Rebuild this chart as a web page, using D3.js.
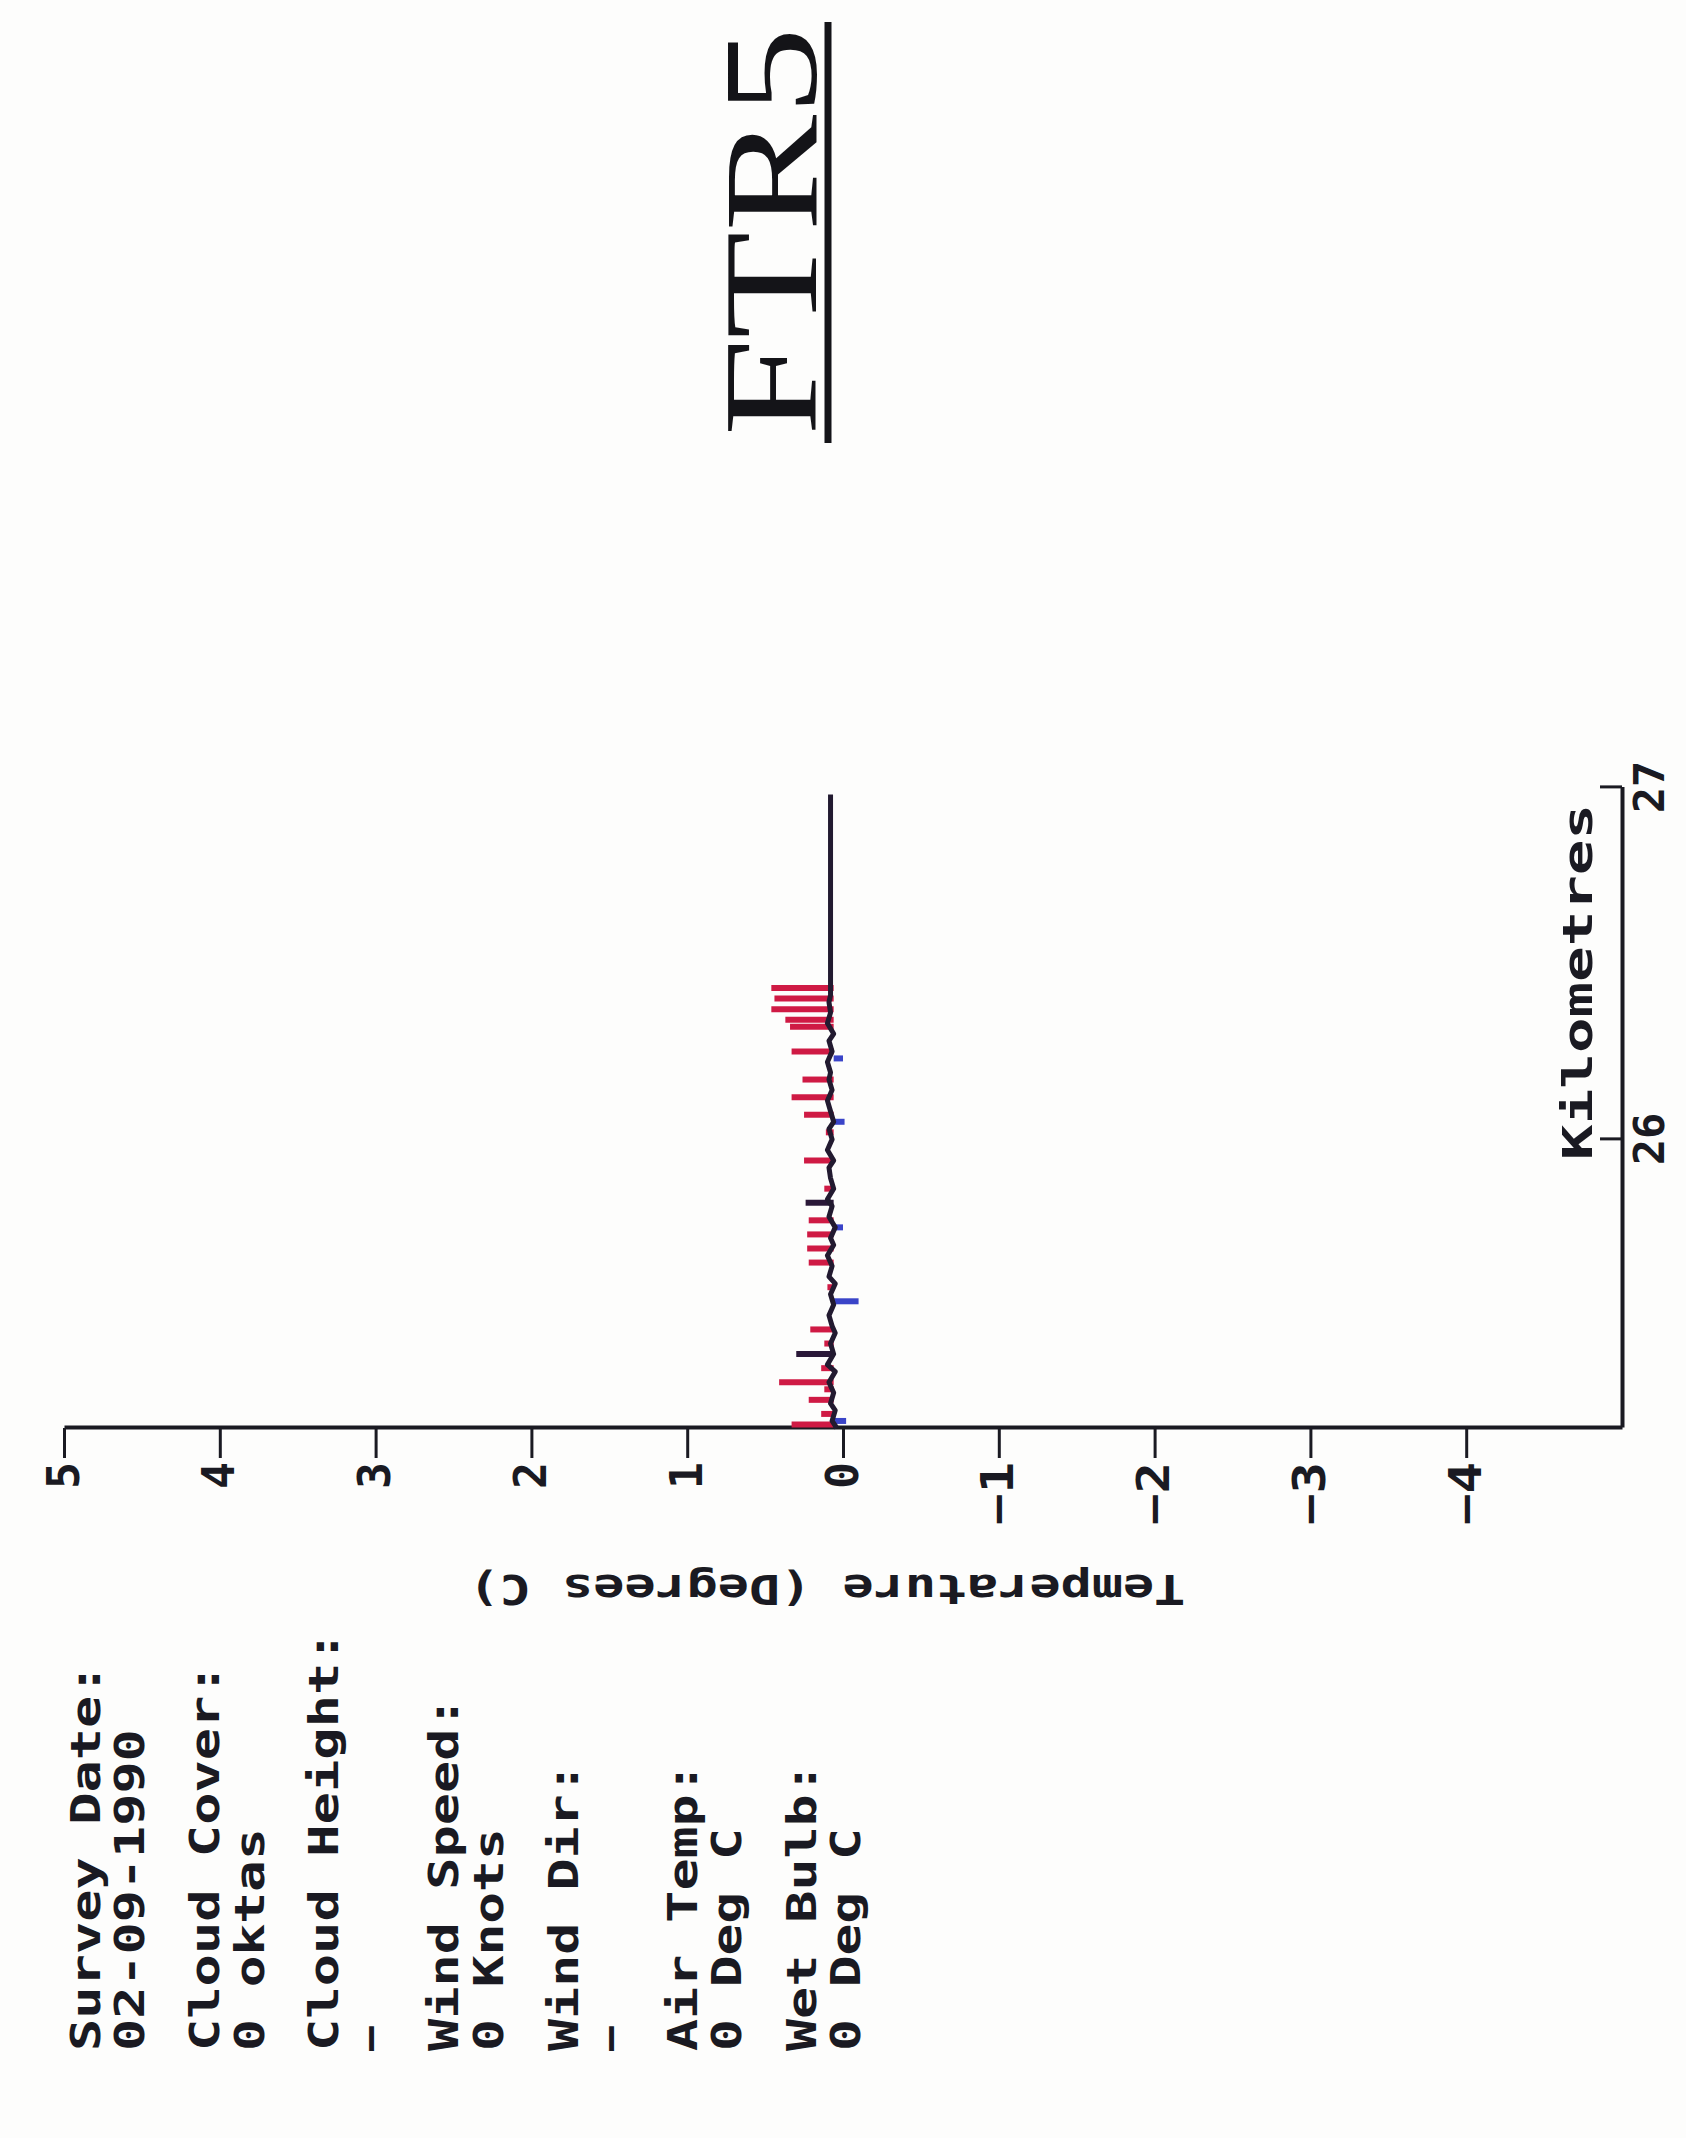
<!DOCTYPE html>
<html>
<head>
<meta charset="utf-8">
<script src="https://cdn.jsdelivr.net/npm/d3@7"></script>
<style>
  html, body { margin: 0; padding: 0; background: #fdfdfc; }
  svg { display: block; }
</style>
</head>
<body>
<script>
const W = 1686, H = 2138;

// Axis ranges and ticks
const kmDomain = [25.18, 27];
const tempDomain = [5, -5];
const tempTicks = [5, 4, 3, 2, 1, 0, -1, -2, -3, -4];
const kmTicks = [26, 27];

// Main (black) temperature trace along the run
const traceKm = [25.18, 25.20, 25.23, 25.25, 25.28, 25.31, 25.34, 25.36, 25.39, 25.42,
                 25.45, 25.47, 25.50, 25.53, 25.56, 25.59, 25.61, 25.64, 25.67, 25.70,
                 25.72, 25.75, 25.78, 25.81, 25.83, 25.86, 25.89, 25.92, 25.94, 25.97,
                 26.00, 26.03, 26.05, 26.08, 26.11, 26.14, 26.17, 26.19, 26.22, 26.25,
                 26.28, 26.30, 26.33, 26.36, 26.39, 26.41, 26.46, 26.55, 26.64, 26.73,
                 26.83, 26.92, 26.98];
const traceTemp = [0.04, 0.07, 0.05, 0.08, 0.06, 0.09, 0.05, 0.10, 0.06, 0.08,
                   0.05, 0.07, 0.09, 0.06, 0.08, 0.05, 0.09, 0.07, 0.10, 0.06,
                   0.08, 0.05, 0.09, 0.07, 0.10, 0.06, 0.08, 0.09, 0.06, 0.10,
                   0.07, 0.09, 0.06, 0.08, 0.10, 0.07, 0.09, 0.08, 0.10, 0.07,
                   0.09, 0.06, 0.10, 0.08, 0.09, 0.08, 0.08, 0.08, 0.08, 0.08,
                   0.08, 0.08, 0.08];

// Warm excursions (red)
const redKm = [25.19, 25.22, 25.26, 25.29, 25.31, 25.35, 25.42, 25.46, 25.58, 25.65,
               25.69, 25.73, 25.77, 25.86, 25.94, 26.02, 26.07, 26.12, 26.17, 26.25,
               26.32, 26.34, 26.37, 26.40, 26.43];
const redTemp = [0.33, 0.14, 0.22, 0.12, 0.41, 0.14, 0.12, 0.21, 0.10, 0.22,
                 0.23, 0.23, 0.22, 0.12, 0.25, 0.11, 0.25, 0.33, 0.26, 0.33,
                 0.34, 0.37, 0.46, 0.44, 0.46];

// Cool excursions (blue)
const blueKm = [25.20, 25.54, 25.75, 26.05, 26.23];
const blueTemp = [-0.02, -0.10, 0.00, -0.01, 0.00];

// Short dark excursions on the main trace
const darkKm = [25.39, 25.82];
const darkTemp = [0.30, 0.24];

// Survey conditions block
const infoLines = ["Survey Date:", "02-09-1990", "Cloud Cover:", "0 oktas",
                   "Cloud Height:", "\u2013", "Wind Speed:", "0 Knots",
                   "Wind Dir:", "\u2013", "Air Temp:", "0 Deg C",
                   "Wet Bulb:", "0 Deg C"];
const titleText = "FTR5";
const xTitle = "Kilometres";
const yTitle = "Temperature (Degrees C)";

const monoFont = "'DejaVu Sans Mono', 'Liberation Mono', monospace";
const ink = "#1a1a22";
const cell = 33;   // character pitch of the plotter lettering

const svg = d3.select("body").append("svg")
  .attr("width", W).attr("height", H)
  .style("background", "#fdfdfc");

// The plot sheet is laid out in landscape and turned a quarter turn
// so that its left edge sits at the bottom of the page.
const sheet = svg.append("g")
  .attr("transform", `translate(0,${H}) rotate(-90)`);

const x = d3.scaleLinear().domain(kmDomain).range([710, 1350.6]);
const y = d3.scaleLinear().domain(tempDomain).range([64, 1622]);

function plotterText(sel, size, pitch) {
  sel.attr("font-family", monoFont).attr("font-size", size).attr("font-weight", "bold")
     .attr("fill", ink)
     .attr("lengthAdjust", "spacingAndGlyphs")
     .attr("textLength", function() {
       const n = this.textContent.length;
       return n * pitch - pitch * 0.25;
     });
}

// Temperature axis
const yAxis = sheet.append("g")
  .attr("transform", `translate(${x(kmDomain[0])},0)`)
  .call(d3.axisLeft(y).tickValues(tempTicks).tickSize(30).tickSizeOuter(0)
        .tickPadding(4).tickFormat(d => d < 0 ? "\u2212" + Math.abs(d) : String(d)));
yAxis.select(".domain").attr("stroke", ink).attr("stroke-width", 4);
yAxis.selectAll(".tick line").attr("stroke", ink).attr("stroke-width", 3);
yAxis.selectAll(".tick text").call(plotterText, 44, 36);

// Kilometre axis
const xAxis = sheet.append("g")
  .attr("transform", `translate(0,${y(tempDomain[1])})`)
  .call(d3.axisBottom(x).tickValues(kmTicks).tickSize(-22).tickSizeOuter(0)
        .tickPadding(12).tickFormat(d => String(d)));
xAxis.select(".domain").attr("stroke", ink).attr("stroke-width", 4);
xAxis.selectAll(".tick line").attr("stroke", ink).attr("stroke-width", 3);
xAxis.selectAll(".tick text").call(plotterText, 42, 30);

// Axis titles
sheet.append("text")
  .attr("x", 1334).attr("y", y(tempDomain[1]) - 30)
  .attr("text-anchor", "end")
  .text(xTitle)
  .call(plotterText, 40, 36.5);

sheet.append("text")
  .attr("transform", `translate(563,${y(0) - 16}) rotate(-90)`)
  .attr("text-anchor", "middle")
  .text(yTitle)
  .call(plotterText, 40, 31.5);

// Excursion bars
const plot = sheet.append("g");
function bars(cls, kms, temps, colour) {
  plot.selectAll("line." + cls).data(kms.map((k, i) => [k, temps[i]])).join("line")
    .attr("class", cls)
    .attr("x1", d => x(d[0])).attr("x2", d => x(d[0]))
    .attr("y1", y(0.06)).attr("y2", d => y(d[1]))
    .attr("stroke", colour).attr("stroke-width", 6);
}
bars("red", redKm, redTemp, "#cf1a44");
bars("blue", blueKm, blueTemp, "#3a44c8");
bars("dark", darkKm, darkTemp, "#2a1838");

// Main trace
const traceLine = d3.line().x(d => x(d[0])).y(d => y(d[1]));
plot.append("path")
  .datum(traceKm.map((k, i) => [k, traceTemp[i]]))
  .attr("d", traceLine)
  .attr("fill", "none")
  .attr("stroke", "#221a30").attr("stroke-width", 5)
  .attr("stroke-linejoin", "round");

// Survey conditions block
const infoOffsets = [85, 129, 204, 249, 323, 368, 443, 488, 563, 608, 682, 726, 801, 845];
sheet.append("g").selectAll("text").data(infoLines).join("text")
  .attr("x", 87)
  .attr("y", (d, i) => infoOffsets[i] + 15)
  .text(d => d)
  .call(plotterText, 40, cell);

// Title with underline
sheet.append("text")
  .attr("x", 1702).attr("y", 816)
  .attr("font-family", "'Liberation Serif', 'Times New Roman', serif")
  .attr("font-size", 134).attr("fill", "#141418")
  .attr("lengthAdjust", "spacingAndGlyphs").attr("textLength", 409)
  .text(titleText);
sheet.append("line")
  .attr("x1", 1695).attr("x2", 2116).attr("y1", 828).attr("y2", 828)
  .attr("stroke", "#141418").attr("stroke-width", 7);
</script>
</body>
</html>
